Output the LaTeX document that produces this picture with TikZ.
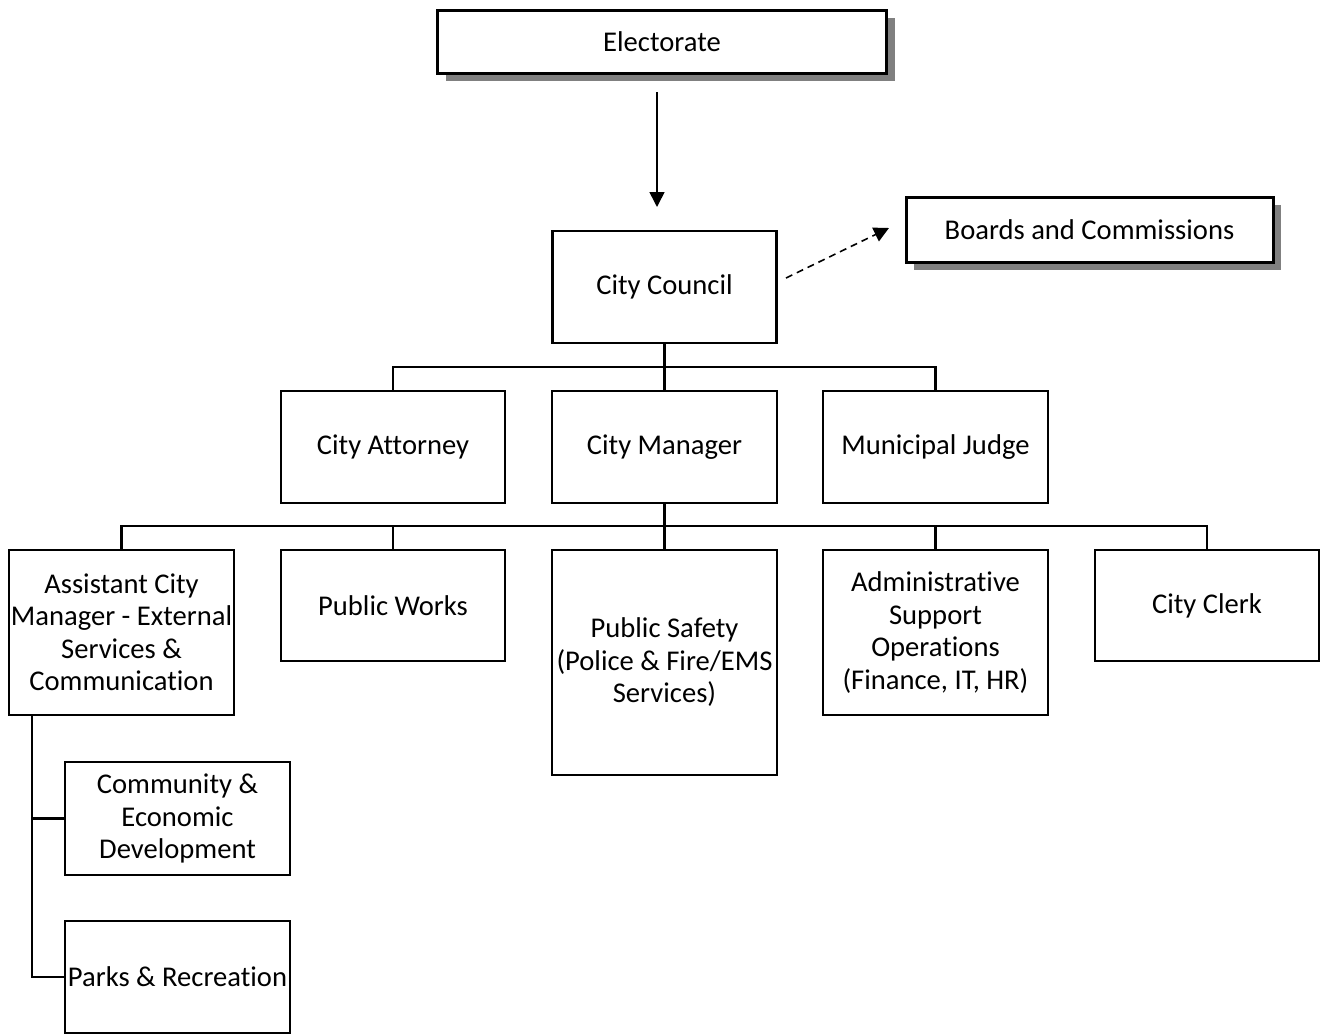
\documentclass[tikz,border=0pt]{standalone}
\usepackage{fontspec}
\setmainfont{Carlito}[Ligatures={NoCommon}]
\usetikzlibrary{arrows.meta,shadows}
\begin{document}
\begin{tikzpicture}[x=1pt,y=-1pt,
  box/.style={draw, line width=2.2pt, fill=white, align=center, inner sep=0pt,
    font=\fontsize{28.6}{32.5}\selectfont},
  topbox/.style={box, line width=3pt,
    drop shadow={shadow xshift=8pt, shadow yshift=-8pt, fill=black!50, opacity=1}},
  link/.style={line width=2.2pt},
  tip/.style={-{Triangle[length=15pt,width=15pt]}, line width=1.6pt}]
\useasboundingbox (0,0) rectangle (1320,1034);

\node[topbox, minimum width=449pt, minimum height=63pt] (elect) at (662,41.5) {Electorate};
\node[topbox, minimum width=367pt, minimum height=65pt] (boards) at (1089.5,229.5) {Boards and Commissions};
\node[box, minimum width=224pt, minimum height=112pt] (council) at (664.5,287) {City Council};

\node[box, minimum width=224pt, minimum height=112pt] (attorney) at (393,447) {City Attorney};
\node[box, minimum width=225pt, minimum height=112pt] (manager) at (664.5,447) {City Manager};
\node[box, minimum width=225pt, minimum height=112pt] (judge) at (935.5,447) {Municipal Judge};

\node[box, minimum width=225pt, minimum height=165pt] (asst) at (121.5,632.5) {Assistant City\\Manager - External\\Services \&\\Communication};
\node[box, minimum width=224pt, minimum height=111pt] (works) at (393,605.5) {Public Works};
\node[box, minimum width=225pt, minimum height=225pt] (safety) at (664.5,662.5) {Public Safety\\(Police \& Fire/EMS\\Services)};
\node[box, minimum width=225pt, minimum height=165pt] (admin) at (935.5,632.5) {Administrative\\Support\\Operations\\(Finance, IT, HR)};
\node[box, minimum width=224pt, minimum height=111pt] (clerk) at (1207,605.5) {City Clerk};

\node[box, minimum width=225pt, minimum height=113pt] (community) at (177.5,818.5) {Community \&\\Economic\\Development};
\node[box, minimum width=225pt, minimum height=112pt] (parks) at (177.5,977) {Parks \& Recreation};

% connectors
\coordinate (a1) at (657,92);
\coordinate (a2) at (657,207);
\draw[tip] (a1) -- (a2);
\coordinate (d1) at (786,278);
\coordinate (d2) at (889,228);
\draw[tip, dash pattern=on 7pt off 5pt] (d1) -- (d2);

\coordinate (bus1) at (0,367);
\coordinate (bus2) at (0,526);
\coordinate (spine) at (32,0);
\draw[link] (council.south) -- (manager.north);
\draw[link] (attorney.north) -- (attorney.north |- bus1) -- (judge.north |- bus1) -- (judge.north);
\draw[link] (manager.south) -- (safety.north);
\draw[link] (asst.north) -- (asst.north |- bus2) -- (clerk.north |- bus2) -- (clerk.north);
\draw[link] (works.north) -- (works.north |- bus2);
\draw[link] (admin.north) -- (admin.north |- bus2);
\draw[link] (spine |- asst.south) |- (parks.west);
\draw[link] (spine |- community.west) -- (community.west);
\end{tikzpicture}
\end{document}
